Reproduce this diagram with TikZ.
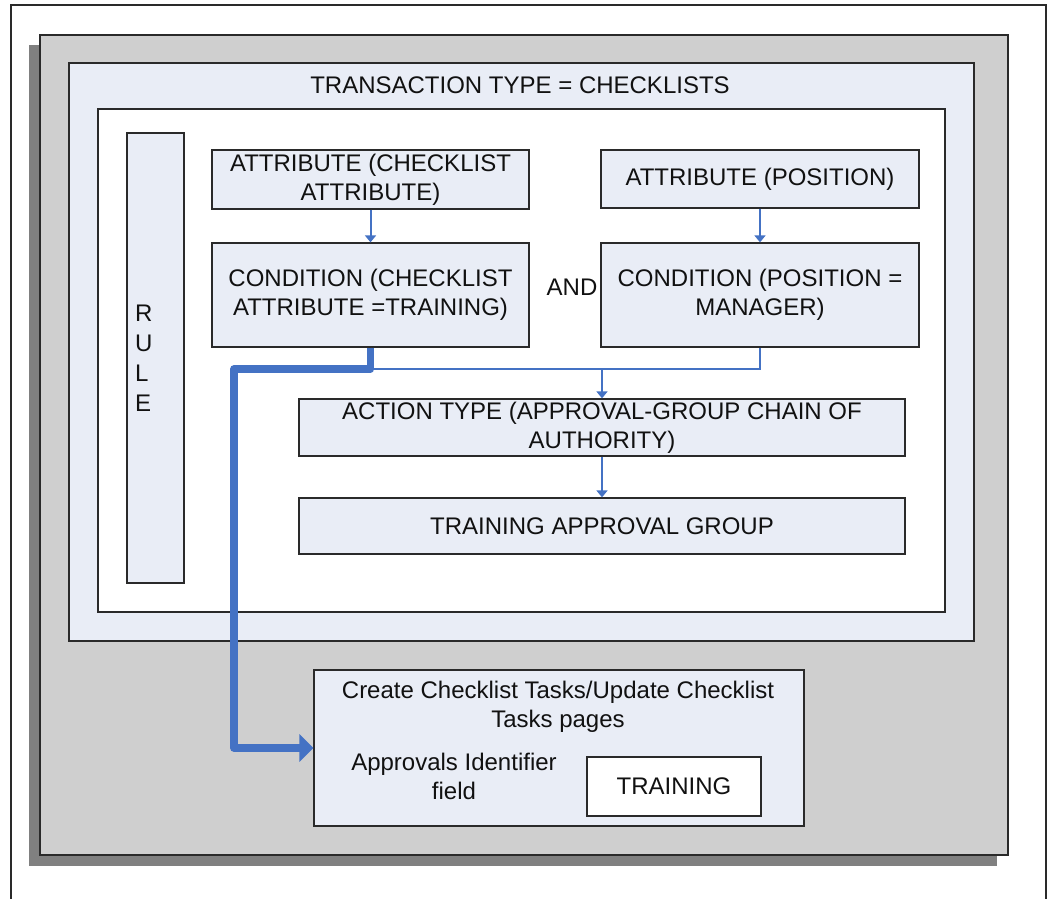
\documentclass[tikz,border=0pt]{standalone}
\usepackage{fontspec}
\setmainfont{Liberation Sans}
\usetikzlibrary{arrows.meta}
\definecolor{txt}{HTML}{111111}
\definecolor{outergray}{HTML}{CFCFCF}
\definecolor{shadowgray}{HTML}{808080}
\definecolor{lightfill}{HTML}{E9EDF6}
\definecolor{bordercol}{HTML}{2A2A2A}
\definecolor{linkblue}{HTML}{4472C4}
\tikzset{
  every node/.style={text=txt, font=\fontsize{24}{29}\selectfont},
  box/.style={draw=bordercol, line width=1.3pt, fill=lightfill, rectangle, inner sep=0pt, align=center},
  whitebox/.style={draw=bordercol, line width=1.3pt, fill=white, rectangle, inner sep=0pt, align=center},
  plain/.style={inner sep=0pt, align=center},
  thinlink/.style={draw=linkblue, line width=2pt},
  thinarrow/.style={thinlink, -{Triangle[width=11pt,length=7pt]}},
  thicklink/.style={draw=linkblue, line width=7.5pt, line join=round, -{Triangle[width=27pt,length=14pt]}},
}
\begin{document}
\begin{tikzpicture}[x=1pt,y=-1pt]
\useasboundingbox (0,0) rectangle (1049,899);
% outer frame lines
\draw[line width=1.2pt, draw=bordercol] (11,899) -- (11,5) -- (1046,5) -- (1046,899);
% shadow and outer gray panel
\fill[shadowgray] (29,45) rectangle (997,866);
\node[draw=bordercol, line width=1.3pt, fill=outergray, minimum width=968pt, minimum height=820pt, inner sep=0pt] (outer) at (524,445) {};
% transaction container
\node[box, minimum width=905pt, minimum height=578pt] (trans) at (521.5,352) {};
\node[plain] (title) at (520,85) {TRANSACTION TYPE = CHECKLISTS};
% white rule area
\node[whitebox, minimum width=847pt, minimum height=503pt] (rulearea) at (521.5,360.5) {};
% rule bar
\node[box, minimum width=57pt, minimum height=450pt, inner xsep=8pt, text width=41pt, align=left, font=\fontsize{24}{30}\selectfont] (rule) at (155.5,358) {R\\U\\L\\E};
% attribute / condition boxes
\node[box, minimum width=317pt, minimum height=59pt] (attr1) at (370.5,179.5) {ATTRIBUTE (CHECKLIST\\ATTRIBUTE)};
\node[box, minimum width=317pt, minimum height=104pt] (cond1) at (370.5,295) {CONDITION (CHECKLIST\\ATTRIBUTE =TRAINING)};
\node[box, minimum width=318pt, minimum height=58pt] (attr2) at (760,179) {ATTRIBUTE (POSITION)};
\node[box, minimum width=318pt, minimum height=104pt] (cond2) at (760,295) {CONDITION (POSITION =\\MANAGER)};
\node[plain] (and) at (572,287) {AND};
\node[box, minimum width=606pt, minimum height=57pt] (action) at (602,427.5) {ACTION TYPE (APPROVAL-GROUP CHAIN OF\\AUTHORITY)};
\node[box, minimum width=606pt, minimum height=56pt] (group) at (602,526) {TRAINING APPROVAL GROUP};
% bottom page box
\node[box, minimum width=490pt, minimum height=156pt] (page) at (559,748) {};
\node[plain] (pagetitle) at (558,707) {Create Checklist Tasks/Update Checklist\\Tasks pages};
\node[plain] (fieldlbl) at (454,776) {Approvals Identifier\\field};
\node[whitebox, minimum width=174pt, minimum height=59pt] (trainval) at (674,786.5) {TRAINING};
% connectors
\coordinate (jn) at (602,369);
\coordinate (tk) at (234,369);
\draw[thinarrow] (attr1) -- (cond1);
\draw[thinarrow] (attr2) -- (cond2);
\draw[thinlink] (cond1.south) |- (jn);
\draw[thinarrow] (cond2.south) |- (jn) -- (action.north);
\draw[thinarrow] (action) -- (group);
\draw[thicklink] (cond1.south) |- (tk) |- (page.west);
\end{tikzpicture}
\end{document}
